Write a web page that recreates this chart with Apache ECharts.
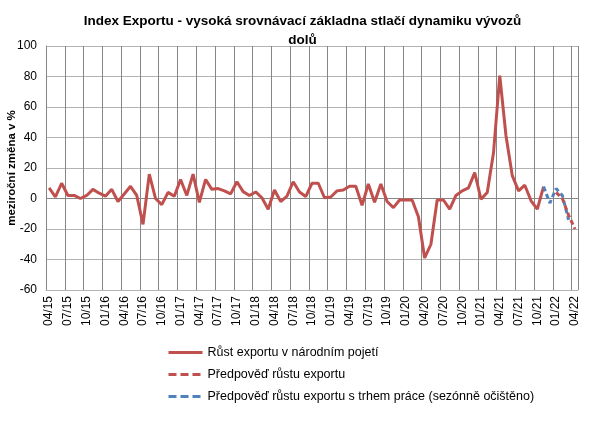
<!DOCTYPE html>
<html>
<head>
    <meta charset="utf-8">
    <title>Index Exportu</title>
    <script src="https://cdn.jsdelivr.net/npm/echarts@6/dist/echarts.min.js"></script>
    <style>
        html, body {
            margin: 0;
            width: 100%;
            height: 100%;
            background: #fff;
        }

        #main {
            width: 605px;
            height: 421px;
        }
    </style>
</head>
<body>
<div id="main"></div>
<script type="text/javascript">
    // měsíce 04/15 .. 04/22
    const months = [
        '04/15', '05/15', '06/15', '07/15', '08/15', '09/15', '10/15', '11/15', '12/15',
        '01/16', '02/16', '03/16', '04/16', '05/16', '06/16', '07/16', '08/16', '09/16', '10/16', '11/16', '12/16',
        '01/17', '02/17', '03/17', '04/17', '05/17', '06/17', '07/17', '08/17', '09/17', '10/17', '11/17', '12/17',
        '01/18', '02/18', '03/18', '04/18', '05/18', '06/18', '07/18', '08/18', '09/18', '10/18', '11/18', '12/18',
        '01/19', '02/19', '03/19', '04/19', '05/19', '06/19', '07/19', '08/19', '09/19', '10/19', '11/19', '12/19',
        '01/20', '02/20', '03/20', '04/20', '05/20', '06/20', '07/20', '08/20', '09/20', '10/20', '11/20', '12/20',
        '01/21', '02/21', '03/21', '04/21', '05/21', '06/21', '07/21', '08/21', '09/21', '10/21', '11/21', '12/21',
        '01/22', '02/22', '03/22', '04/22'
    ];

    // růst exportu v národním pojetí (skutečnost)
    const actual = [
        7, 1, 10, 2, 2, 0, 2, 6, 3.5,
        1.5, 6, -2, 3, 8, 2, -17, 16, 0, -4, 4, 1.5,
        12.5, 2, 16, -2.5, 12.5, 6, 6.5, 5, 3, 11, 4.5, 2,
        4.3, 0.5, -7, 5.6, -2, 1.5, 11, 4.3, 1.3, 10, 10, 0.5,
        1, 5, 5.6, 8, 8, -4.5, 9.5, -2.5, 9.5, -2, -6, -1,
        -1, -1, -12, -39, -30, -1, -1, -7, 2, 5, 7, 17,
        -0.5, 4, 30, 80.5, 41, 15, 5, 8.7, -1.5, -7, 7.8, null,
        null, null, null, null
    ];

    // předpověď růstu exportu
    const forecast = [
        null, null, null, null, null, null, null, null, null,
        null, null, null, null, null, null, null, null, null, null, null, null,
        null, null, null, null, null, null, null, null, null, null, null, null,
        null, null, null, null, null, null, null, null, null, null, null, null,
        null, null, null, null, null, null, null, null, null, null, null, null,
        null, null, null, null, null, null, null, null, null, null, null, null,
        null, null, null, null, null, null, null, null, null, null, null, null,
        4, 0, -11, -20
    ];

    // předpověď s trhem práce (sezónně očištěno)
    const forecastLabour = [
        null, null, null, null, null, null, null, null, null,
        null, null, null, null, null, null, null, null, null, null, null, null,
        null, null, null, null, null, null, null, null, null, null, null, null,
        null, null, null, null, null, null, null, null, null, null, null, null,
        null, null, null, null, null, null, null, null, null, null, null, null,
        null, null, null, null, null, null, null, null, null, null, null, null,
        null, null, null, null, null, null, null, null, null, null, 7.8, -3,
        6.5, 2, -14, null
    ];

    const seriesNames = [
        'Růst exportu v národním pojetí',
        'Předpověď růstu exportu',
        'Předpověď růstu exportu s trhem práce (sezónně očištěno)'
    ];

    const red = '#c0504d';
    const blue = '#4f81bd';
    const font = '"Liberation Sans", Arial, sans-serif';

    var myChart = echarts.init(document.getElementById('main'), null, {renderer: 'canvas'});

    // čára v nule tmavší než ostatní mřížka
    const hLineColors = ['#b3b3b3', '#b3b3b3', '#b3b3b3', '#868686', '#b3b3b3', '#b3b3b3', '#b3b3b3', '#b3b3b3', '#b3b3b3'];

    var option = {
        animation: false,
        title: {
            text: 'Index Exportu - vysoká srovnávací základna stlačí dynamiku vývozů\ndolů',
            left: 'center',
            top: 7,
            textStyle: {
                fontFamily: font,
                fontSize: 13.5,
                fontWeight: 'bold',
                color: '#000',
                lineHeight: 19
            }
        },
        grid: {
            left: 46,
            right: 27,
            top: 46,
            bottom: 131,
            outerBoundsMode: 'none'
        },
        legend: {
            orient: 'vertical',
            left: 162,
            top: 341,
            itemWidth: 34,
            itemHeight: 10,
            itemGap: 9,
            itemStyle: {opacity: 0},
            lineStyle: {width: 3},
            textStyle: {
                fontFamily: font,
                fontSize: 12.5,
                color: '#000'
            },
            data: [
                {name: seriesNames[0]},
                {name: seriesNames[1], lineStyle: {type: [8, 4], width: 3}},
                {name: seriesNames[2], lineStyle: {type: [8, 4], width: 3}}
            ]
        },
        xAxis: {
            type: 'category',
            data: months,
            boundaryGap: true,
            axisLine: {
                onZero: false,
                lineStyle: {color: '#b3b3b3'}
            },
            axisTick: {show: false},
            axisLabel: {
                interval: 2,
                rotate: 90,
                margin: 6,
                fontFamily: font,
                fontSize: 12,
                color: '#000'
            },
            splitLine: {
                show: true,
                interval: 2,
                lineStyle: {color: '#868686', width: 1}
            }
        },
        yAxis: {
            type: 'value',
            min: -60,
            max: 100,
            interval: 20,
            name: 'meziroční změna v %',
            nameLocation: 'middle',
            nameGap: 28,
            nameMoveOverlap: false,
            nameTextStyle: {
                fontFamily: font,
                fontSize: 11.5,
                fontWeight: 'bold',
                color: '#000'
            },
            axisLine: {
                show: true,
                lineStyle: {color: '#868686'}
            },
            axisTick: {show: false},
            axisLabel: {
                margin: 9,
                fontFamily: font,
                fontSize: 12,
                color: '#000'
            },
            splitLine: {
                lineStyle: {color: hLineColors, width: 1}
            }
        },
        series: [
            {
                name: seriesNames[0],
                type: 'line',
                data: actual,
                symbol: 'none',
                z: 3,
                lineStyle: {color: red, width: 3},
                itemStyle: {color: red}
            },
            {
                name: seriesNames[1],
                type: 'line',
                data: forecast,
                symbol: 'none',
                z: 4,
                lineStyle: {color: red, width: 3, type: [5, 3]},
                itemStyle: {color: red}
            },
            {
                name: seriesNames[2],
                type: 'line',
                data: forecastLabour,
                symbol: 'none',
                z: 3,
                lineStyle: {color: blue, width: 3, type: [5, 3]},
                itemStyle: {color: blue}
            }
        ]
    };

    myChart.setOption(option);
</script>
</body>
</html>
